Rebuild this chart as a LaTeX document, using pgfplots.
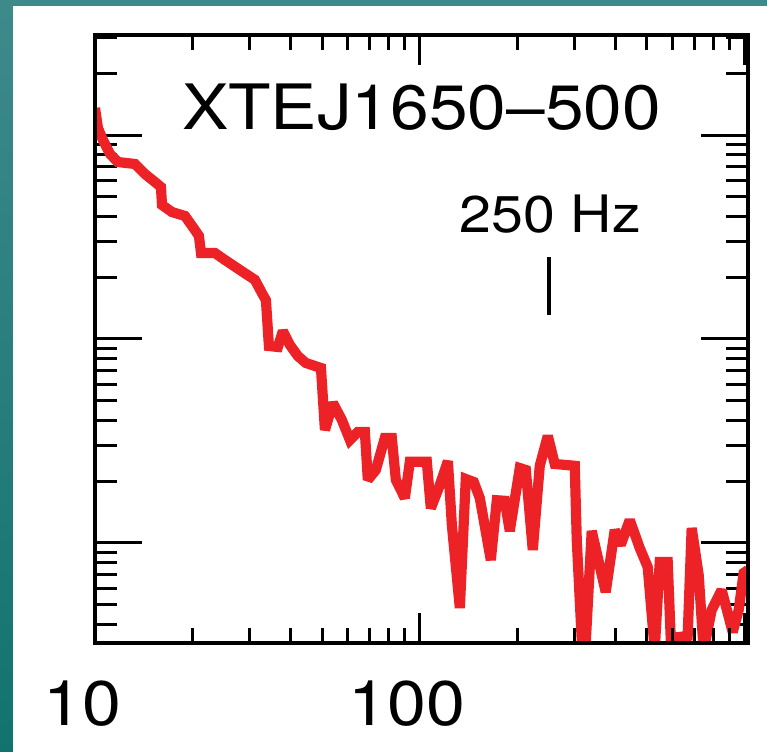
\documentclass[border=0pt]{standalone}
\usepackage{fontspec}
\setmainfont{TeX Gyre Heros}
\usepackage{graphicx}
\usepackage{pgfplots}
\pgfplotsset{compat=1.18}

\definecolor{specred}{RGB}{237,34,39}
\definecolor{tealtop}{RGB}{62,138,138}
\definecolor{tealbot}{RGB}{18,115,109}
\newcommand{\wide}[1]{\scalebox{1.11}[1]{#1}}

\begin{document}
\begin{tikzpicture}
% slide background with the teal frame strips
\fill[white] (-47.5pt,-54pt) rectangle (336pt,321.5pt);
\shade[top color=tealtop, bottom color=tealbot] (-47.5pt,-54pt) rectangle (-41pt,321.5pt);
\fill[tealtop] (-47.5pt,318.5pt) rectangle (336pt,321.5pt);

% power spectrum with y ticks
\begin{axis}[
  xmode=log, ymode=log,
  scale only axis, width=326.5pt, height=304pt,
  xmin=10, xmax=1024, ymin=0.3234, ymax=309.2,
  axis line style={line width=1.65pt, black},
  tick style={line width=1.5pt, black},
  xtick=\empty,
  ytick={1,10,100},
  minor ytick={0.4,0.5,0.6,0.7,0.8,0.9,2,3,4,5,6,7,8,9,20,30,40,50,60,70,80,90,200,300},
  yticklabels={},
  major tick length=23.5pt, minor tick length=11pt,
]
\addplot[specred, line width=5.1pt, line join=miter, miter limit=2] coordinates {
(10,135.7) (10.21,108.2) (10.58,94.5) (11.12,80.7) (11.77,73.7)
(13.28,72.1) (14.25,64.4) (15.30,58.8) (15.96,55.6) (16.08,45.4)
(17.26,41.9) (18.92,40.1) (20.31,34.2) (20.89,32.0) (21.20,26.4)
(23.40,26.4) (25.12,24.4) (27.93,21.8) (31.07,19.5) (32.65,16.8)
(33.59,15.5) (34.31,9.24) (36.57,9.14) (37.88,10.94) (39.81,9.35)
(42.13,8.25) (44.59,7.63) (48.56,7.29) (49.61,7.21) (51.04,3.58)
(54.00,4.86) (57.54,4.01) (60.91,3.20) (64.47,3.50) (67.74,3.50)
(69.18,2.04) (73.21,2.28) (78.03,3.27) (82.00,3.27) (84.37,2.04)
(89.92,1.66) (93.16,2.50) (105.1,2.50) (108.1,1.48) (115.2,1.92)
(122.0,2.52) (125.5,1.225) (132.8,0.480) (138.5,2.06) (146.6,1.99)
(153.0,1.66) (165.4,0.825) (172.6,1.62) (182.6,1.61) (189.2,1.145)
(203.1,2.33) (212.0,2.28) (222.7,0.924) (234.0,2.39) (247.7,3.35)
(260.3,2.44) (299.9,2.39) (304.2,1.034) (319.6,0.213) (338.2,1.145)
(373.5,0.575) (398.1,1.158) (415.4,0.978) (442.8,1.296) (475.3,0.945)
(502.9,0.763) (528.6,0.299) (547.7,0.807) (579.6,0.807) (592.1,0.342)
(667.7,0.350) (686.9,1.184) (722.0,0.697) (747.9,0.299) (791.5,0.469)
(849.7,0.588) (918.6,0.366) (958.5,0.469) (992.9,0.713) (1024,0.737)
};
\draw[line width=1.8pt] (axis cs:250,25.2) -- (axis cs:250,13.1);
\node[anchor=base, inner sep=0pt, font=\fontsize{25.8}{30}\selectfont]
  at (axis cs:252,33.1) {\wide{250 Hz}};
\node[anchor=base, inner sep=0pt, font=\fontsize{31.3}{36}\selectfont]
  at (rel axis cs:0.5,0.8438) {\wide{XTEJ1650\textendash500}};
\end{axis}

% frequency ticks and labels
\begin{axis}[
  xmode=log, ymode=log,
  scale only axis, width=326.5pt, height=304pt,
  xmin=10, xmax=1024, ymin=0.3234, ymax=309.2,
  axis line style={line width=1.65pt, black},
  tick style={line width=1.5pt, black},
  ytick=\empty,
  xtick={10,100,1000},
  xticklabels={\wide{10},\wide{100},{}},
  minor xtick={20,30,40,50,60,70,80,90,200,300,400,500,600,700,800,900},
  major tick length=15pt, minor tick length=7.5pt,
  xticklabel style={font=\fontsize{31.5}{36}\selectfont, inner sep=0pt,
    anchor=north, yshift=-18.5pt, xshift=-6.5pt},
]
\end{axis}

\pgfresetboundingbox
\path[use as bounding box] (-47.5pt,-54pt) rectangle (336pt,321.5pt);
\end{tikzpicture}
\end{document}
